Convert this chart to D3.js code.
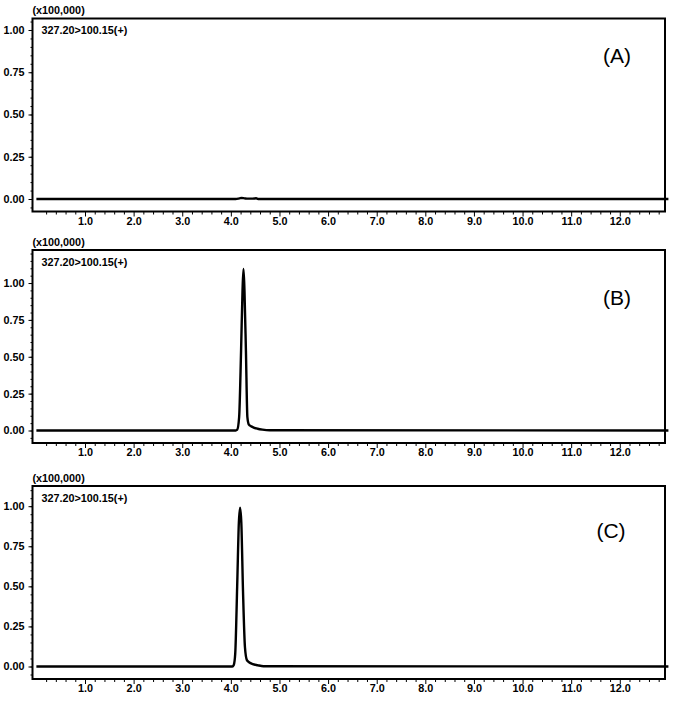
<!DOCTYPE html>
<html><head><meta charset="utf-8">
<script src="https://cdn.jsdelivr.net/npm/d3@7"></script>
<style>body{margin:0;background:#fff}svg{display:block}</style>
</head><body>
<svg id="c" width="684" height="703"></svg>
<script>
// ---- data ----
const panelLabels = ["(A)", "(B)", "(C)"];
const transition = "327.20>100.15(+)";
const yScaleNote = "(x100,000)";
const yTickValues = [0, 0.25, 0.5, 0.75, 1.0];
const xTickValues = [1,2,3,4,5,6,7,8,9,10,11,12];
const yMaxA = 1.068, yMaxB = 1.224, yMaxC = 1.126;

const timeA = [0, 4.10, 4.18, 4.22, 4.28, 4.35, 4.45, 4.52, 4.56, 13.0];
const intA  = [0, 0, 0.004, 0.006, 0.004, 0.002, 0.002, 0.004, 0, 0];

const timeB = [0, 4.10, 4.13, 4.17, 4.21, 4.24, 4.26, 4.28, 4.31, 4.34, 4.37, 4.42, 4.47, 4.55, 4.65, 4.80, 13.0];
const intB  = [0, 0, 0.005, 0.09, 0.54, 0.95, 1.095, 0.95, 0.54, 0.09, 0.04, 0.028, 0.02, 0.012, 0.006, 0.002, 0];

const timeC = [0, 4.03, 4.06, 4.09, 4.13, 4.165, 4.19, 4.215, 4.25, 4.29, 4.33, 4.38, 4.45, 4.55, 4.67, 13.0];
const intC  = [0, 0, 0.01, 0.08, 0.5, 0.9, 0.99, 0.9, 0.47, 0.12, 0.04, 0.025, 0.015, 0.008, 0.002, 0];

const panels = [
  {label: panelLabels[0], t: timeA, v: intA, ymax: yMaxA, top: 18.5, lx: 617, ly: 55},
  {label: panelLabels[1], t: timeB, v: intB, ymax: yMaxB, top: 250, lx: 617, ly: 297},
  {label: panelLabels[2], t: timeC, v: intC, ymax: yMaxC, top: 486, lx: 611, ly: 530}
];

const svg = d3.select("#c");
const left = 32.5, right = 665, H = 193;
const x = d3.scaleLinear().domain([-0.08, 12.93]).range([left, right]);
const font = "'Liberation Sans', Arial, sans-serif";
const fs = 10.8;

panels.forEach(p => {
  const bottom = p.top + H;
  const y = d3.scaleLinear().domain([0, p.ymax]).range([bottom - 12.5, p.top]);
  const g = svg.append("g");

  // y major ticks + labels
  const yAx = d3.axisLeft(y).tickValues(yTickValues).tickSize(4).tickFormat(d3.format(".2f"));
  const ya = g.append("g").attr("transform", `translate(${left},0)`).call(yAx);
  ya.select(".domain").remove();
  ya.selectAll("text").attr("font-family", font).attr("font-size", fs).attr("font-weight", "bold").attr("dx", "-1");
  ya.selectAll("line").attr("stroke", "#000");
  // y minor ticks
  const yMinor = d3.range(-0.05, p.ymax, 0.05).filter(v => y(v) < bottom - 1 && y(v) > p.top + 2);
  const ym = g.append("g").attr("transform", `translate(${left},0)`).call(d3.axisLeft(y).tickValues(yMinor).tickSize(2).tickFormat(""));
  ym.select(".domain").remove();

  // x axis
  const xAx = d3.axisBottom(x).tickValues(xTickValues).tickSize(5).tickFormat(d3.format(".1f"));
  const xa = g.append("g").attr("transform", `translate(0,${bottom})`).call(xAx);
  xa.select(".domain").remove();
  xa.selectAll("text").attr("font-family", font).attr("font-size", fs).attr("font-weight", "bold").attr("dy", "0.5em");
  const xMinor = d3.range(0.2, 12.91, 0.2).filter(v => Math.abs(v - Math.round(v)) > 0.01);
  const xm = g.append("g").attr("transform", `translate(0,${bottom})`).call(d3.axisBottom(x).tickValues(xMinor).tickSize(3).tickFormat(""));
  xm.select(".domain").remove();

  // trace
  const pts = p.t.map((t, i) => [t, p.v[i]]);
  g.append("path").datum(pts)
    .attr("fill", "none").attr("stroke", "#000").attr("stroke-width", 2.4)
    .attr("stroke-linejoin", "round")
    .attr("d", d3.line().x(d => x(d[0])).y(d => y(d[1])).curve(d3.curveMonotoneX));

  // frame
  g.append("rect").attr("x", left).attr("y", p.top).attr("width", right - left).attr("height", H)
    .attr("fill", "none").attr("stroke", "#000").attr("stroke-width", 2);

  g.append("text").attr("x", left).attr("y", p.top - 4.5).text(yScaleNote)
    .attr("font-family", font).attr("font-size", fs).attr("font-weight", "bold");
  g.append("text").attr("x", left + 9).attr("y", p.top + 15.5).text(transition)
    .attr("font-family", font).attr("font-size", fs).attr("font-weight", "bold");
  g.append("text").attr("x", p.lx).attr("y", p.ly).attr("text-anchor", "middle").attr("dominant-baseline", "central")
    .text(p.label).attr("font-family", font).attr("font-size", 21);
});
</script>
</body></html>
